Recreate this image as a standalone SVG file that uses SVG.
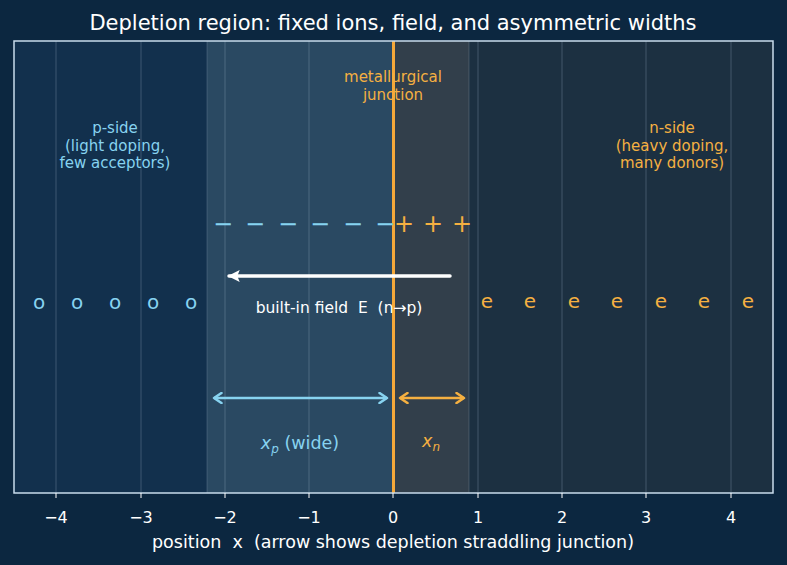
<svg xmlns="http://www.w3.org/2000/svg" width="787" height="565" viewBox="0 0 787 565">
<defs>
<style>
text{font-family:"DejaVu Sans","Liberation Sans",sans-serif;white-space:pre}
.blue{fill:#87d3f0}
.orange{fill:#f5b041}
.white{fill:#ffffff}
.tick{font-size:16px;fill:#ffffff;text-anchor:middle}
.grid{stroke:#9fb3c8;stroke-opacity:0.3;stroke-width:1}
.lbl{font-size:15px;text-anchor:middle}
.ion{font-size:24px;text-anchor:middle}
.car{font-size:20px;text-anchor:middle}
</style>
<marker id="ahW" viewBox="0 0 10 10" refX="9" refY="5" markerWidth="4" markerHeight="3.4" orient="auto" markerUnits="strokeWidth">
<path d="M0,0 L10,5 L0,10 L2,5 Z" fill="#ffffff"/>
</marker>
<marker id="ahB" viewBox="0 0 10 10" refX="8" refY="5" markerWidth="5" markerHeight="5" orient="auto-start-reverse" markerUnits="strokeWidth">
<path d="M2,1 L8,5 L2,9" fill="none" stroke="#87d3f0" stroke-width="2" stroke-linecap="round" stroke-linejoin="round"/>
</marker>
<marker id="ahO" viewBox="0 0 10 10" refX="8" refY="5" markerWidth="5" markerHeight="5" orient="auto-start-reverse" markerUnits="strokeWidth">
<path d="M2,1 L8,5 L2,9" fill="none" stroke="#f5b041" stroke-width="2" stroke-linecap="round" stroke-linejoin="round"/>
</marker>
</defs>
<rect x="0" y="0" width="787" height="565" fill="#0c2740"/>
<text x="393" y="30" font-size="21" text-anchor="middle" class="white">Depletion region: fixed ions, field, and asymmetric widths</text>

<g id="regions">
<rect x="14" y="41" width="193" height="452" fill="#12304d"/>
<rect x="207" y="41" width="186" height="452" fill="#2a4962"/>
<rect x="393" y="41" width="76" height="452" fill="#323f4b"/>
<rect x="469" y="41" width="304" height="452" fill="#1c3041"/>
<line x1="207" y1="41" x2="207" y2="493" stroke="#9fb3c8" stroke-opacity="0.25"/>
<line x1="469" y1="41" x2="469" y2="493" stroke="#9fb3c8" stroke-opacity="0.25"/>
</g>
<g id="grid">
<line class="grid" x1="56" y1="41" x2="56" y2="493"/>
<line class="grid" x1="141" y1="41" x2="141" y2="493"/>
<line class="grid" x1="225" y1="41" x2="225" y2="493"/>
<line class="grid" x1="309" y1="41" x2="309" y2="493"/>
<line class="grid" x1="478" y1="41" x2="478" y2="493"/>
<line class="grid" x1="562" y1="41" x2="562" y2="493"/>
<line class="grid" x1="646" y1="41" x2="646" y2="493"/>
<line class="grid" x1="731" y1="41" x2="731" y2="493"/>
</g>
<g id="junction">
<line x1="393.5" y1="41" x2="393.5" y2="493" stroke="#f5a83a" stroke-width="3"/>
<text class="lbl orange" x="393" y="82">metallurgical</text>
<text class="lbl orange" x="393" y="100">junction</text>
</g>
<g id="p-side">
<text class="lbl blue" x="115" y="133">p-side</text>
<text class="lbl blue" x="115" y="151">(light doping,</text>
<text class="lbl blue" x="115" y="168">few acceptors)</text>
</g>
<g id="n-side">
<text class="lbl orange" x="672" y="133">n-side</text>
<text class="lbl orange" x="672" y="151">(heavy doping,</text>
<text class="lbl orange" x="672" y="168">many donors)</text>
</g>
<g id="acceptor-ions">
<text class="ion blue" x="223" y="232">−</text>
<text class="ion blue" x="255" y="232">−</text>
<text class="ion blue" x="288" y="232">−</text>
<text class="ion blue" x="320" y="232">−</text>
<text class="ion blue" x="353" y="232">−</text>
<text class="ion blue" x="385" y="232">−</text>
</g>
<g id="donor-ions">
<text class="ion orange" x="404" y="232">+</text>
<text class="ion orange" x="433" y="232">+</text>
<text class="ion orange" x="462" y="232">+</text>
</g>
<g id="holes">
<text class="car blue" x="39" y="309">o</text>
<text class="car blue" x="77" y="309">o</text>
<text class="car blue" x="115" y="309">o</text>
<text class="car blue" x="153" y="309">o</text>
<text class="car blue" x="191" y="309">o</text>
</g>
<g id="electrons">
<text class="car orange" x="487" y="308">e</text>
<text class="car orange" x="530" y="308">e</text>
<text class="car orange" x="574" y="308">e</text>
<text class="car orange" x="617" y="308">e</text>
<text class="car orange" x="661" y="308">e</text>
<text class="car orange" x="704" y="308">e</text>
<text class="car orange" x="748" y="308">e</text>
</g>
<g id="connectors">
<line x1="450" y1="276" x2="229" y2="276" stroke="#ffffff" stroke-width="3.5" stroke-linecap="round" marker-end="url(#ahW)"/>
<line x1="214" y1="398" x2="387" y2="398" stroke="#87d3f0" stroke-width="2.5" marker-start="url(#ahB)" marker-end="url(#ahB)"/>
<line x1="400" y1="398" x2="464" y2="398" stroke="#f5b041" stroke-width="2.5" marker-start="url(#ahO)" marker-end="url(#ahO)"/>
</g>
<g id="field-label">
<text x="339" y="313" font-size="15.5" text-anchor="middle" class="white">built-in field  E  (n→p)</text>
</g>
<g id="width-labels">
<text x="300" y="449" font-size="17.5" text-anchor="middle" class="blue"><tspan font-style="italic">x</tspan><tspan font-style="italic" font-size="12" dy="4">p</tspan><tspan dy="-4"> (wide)</tspan></text>
<text x="431" y="447" font-size="17.5" text-anchor="middle" class="orange"><tspan font-style="italic">x</tspan><tspan font-style="italic" font-size="12" dy="4">n</tspan></text>
</g>
<g id="frame">
<rect x="14" y="41" width="759" height="452" fill="none" stroke="#c8dcec" stroke-width="1.5"/>
</g>
<g id="axis">
<g stroke="#ffffff" stroke-width="1">
<line x1="56" y1="493" x2="56" y2="498"/>
<line x1="141" y1="493" x2="141" y2="498"/>
<line x1="225" y1="493" x2="225" y2="498"/>
<line x1="309" y1="493" x2="309" y2="498"/>
<line x1="393" y1="493" x2="393" y2="498"/>
<line x1="478" y1="493" x2="478" y2="498"/>
<line x1="562" y1="493" x2="562" y2="498"/>
<line x1="646" y1="493" x2="646" y2="498"/>
<line x1="731" y1="493" x2="731" y2="498"/>
</g>
<text class="tick" x="56" y="523">−4</text>
<text class="tick" x="141" y="523">−3</text>
<text class="tick" x="225" y="523">−2</text>
<text class="tick" x="309" y="523">−1</text>
<text class="tick" x="393" y="523">0</text>
<text class="tick" x="478" y="523">1</text>
<text class="tick" x="562" y="523">2</text>
<text class="tick" x="646" y="523">3</text>
<text class="tick" x="731" y="523">4</text>
<text x="393" y="548" font-size="17.5" text-anchor="middle" class="white">position  x  (arrow shows depletion straddling junction)</text>
</g>
</svg>
